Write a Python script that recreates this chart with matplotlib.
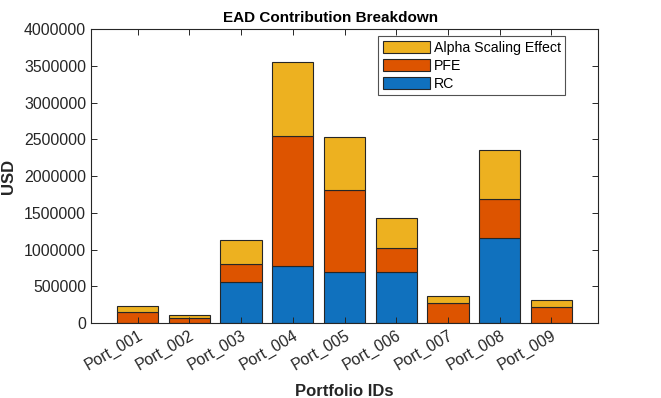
import numpy as np
import matplotlib
matplotlib.use("Agg")
import matplotlib.pyplot as plt

plt.rcParams['font.family'] = ['Liberation Sans', 'DejaVu Sans']

portfolios = ['Port_001', 'Port_002', 'Port_003', 'Port_004', 'Port_005',
              'Port_006', 'Port_007', 'Port_008', 'Port_009']
rc = [0, 0, 554000, 771000, 690000, 690000, 0, 1152000, 0]
pfe = [155000, 64000, 245000, 1769000, 1115000, 326000, 268000, 531000, 214000]
alpha = [72000, 41000, 326000, 1007000, 721000, 408000, 95000, 667000, 95000]

c_rc = '#1071BE'
c_pfe = '#DD5400'
c_alpha = '#EDB120'
edge = '#262626'

x = np.arange(1, len(portfolios) + 1)
rc = np.array(rc)
pfe = np.array(pfe)
alpha = np.array(alpha)

fig = plt.figure(figsize=(6.61, 3.98), dpi=100)
ax = fig.add_axes([0.1377, 0.1884, 0.767, 0.7386])

b1 = ax.bar(x, rc, 0.8, color=c_rc, edgecolor=edge, linewidth=0.8, label='RC')
b2 = ax.bar(x, pfe, 0.8, bottom=rc, color=c_pfe, edgecolor=edge, linewidth=0.8, label='PFE')
b3 = ax.bar(x, alpha, 0.8, bottom=rc + pfe, color=c_alpha, edgecolor=edge, linewidth=0.8,
            label='Alpha Scaling Effect')

ax.set_xlim(0.1, 9.9)
ax.set_ylim(0, 4000000)
ax.set_yticks(np.arange(0, 4000001, 500000))
ax.set_yticklabels([str(v) for v in range(0, 4000001, 500000)])
ax.set_xticks(x)
ax.set_xticklabels(portfolios, rotation=30, ha='right', rotation_mode='anchor')

ax.tick_params(direction='in', length=4, width=0.7, colors=edge, labelsize=11.4,
               top=True, right=True, labelcolor='#262626')
for s in ax.spines.values():
    s.set_color(edge)
    s.set_linewidth(0.8)

ax.set_title('EAD Contribution Breakdown', fontsize=11, fontweight='bold', color='#000000',
             pad=5, x=0.473)
ax.set_xlabel('Portfolio IDs', fontsize=12, fontweight='bold', color='#262626', labelpad=8)
ax.set_ylabel('USD', fontsize=12, fontweight='bold', color='#262626', labelpad=6)

leg = ax.legend(handles=[b3, b2, b1], loc='upper right', bbox_to_anchor=(0.94, 0.985),
                fontsize=10.2, frameon=True, fancybox=False, edgecolor=edge,
                borderpad=0.3, labelspacing=0.27, handlelength=3.35, handleheight=1.0,
                handletextpad=0.25, borderaxespad=0.2)
leg.get_frame().set_linewidth(0.8)

fig.savefig('out.png', dpi=100)
